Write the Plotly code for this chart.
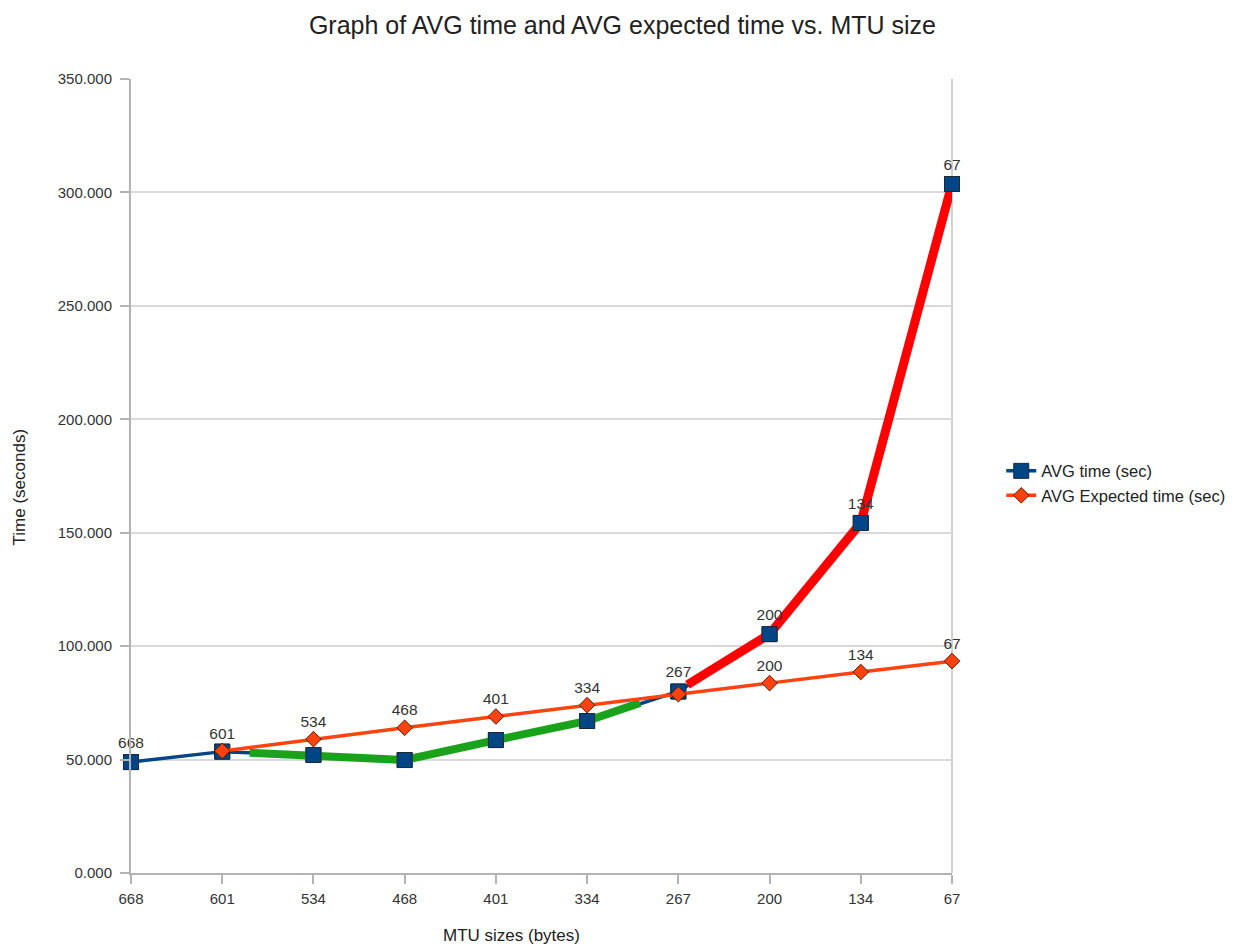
import plotly.graph_objects as go

mtu_sizes = ["668", "601", "534", "468", "401", "334", "267", "200", "134", "67"]
avg_time = [48.9, 53.5, 52.0, 49.8, 58.6, 67.0, 80.0, 105.3, 154.3, 303.7]
avg_expected = [None, 53.8, 59.0, 64.0, 69.0, 74.0, 78.8, 83.7, 88.6, 93.4]
avg_time_labels = ["668", "", "", "", "", "", "267", "200", "134", "67"]
expected_labels = ["", "601", "534", "468", "401", "334", "", "200", "134", "67"]
y_ticks = [0, 50, 100, 150, 200, 250, 300, 350]

# hand-drawn highlight strokes (x in category index units)
green_x = [1.3, 2, 3, 4, 5, 5.58]
green_y = [53.0, 52.0, 49.8, 58.6, 67.0, 75.0]
red_x = [6.1, 7, 8, 9]
red_y = [83.0, 105.3, 154.3, 303.7]

xi = list(range(len(mtu_sizes)))
font = "Liberation Sans, Arial, sans-serif"
lbl_font = dict(family=font, size=15.5, color="#333333")

fig = go.Figure()
fig.add_trace(go.Scatter(x=xi, y=avg_time, mode="lines+markers", name="AVG time (sec)",
                         line=dict(color="#004586", width=3.5), cliponaxis=False,
                         marker=dict(symbol="square", size=15, color="#004586",
                                     line=dict(color="#1a2a3a", width=1))))
fig.add_trace(go.Scatter(x=green_x, y=green_y, mode="lines", showlegend=False,
                         line=dict(color="#1aa31a", width=8), hoverinfo="skip"))
fig.add_trace(go.Scatter(x=red_x, y=red_y, mode="lines", showlegend=False,
                         line=dict(color="#ff0000", width=9), hoverinfo="skip"))
fig.add_trace(go.Scatter(x=xi, y=avg_time, mode="markers+text", showlegend=False,
                         text=avg_time_labels, textposition="top center",
                         textfont=lbl_font, cliponaxis=False,
                         marker=dict(symbol="square", size=15, color="#004586",
                                     line=dict(color="#1a2a3a", width=1)), hoverinfo="skip"))
fig.add_trace(go.Scatter(x=xi, y=avg_expected, mode="lines+markers+text", name="AVG Expected time (sec)",
                         text=expected_labels, textposition="top center",
                         textfont=lbl_font, cliponaxis=False,
                         line=dict(color="#ff420e", width=3.5),
                         marker=dict(symbol="diamond", size=12, color="#ff420e",
                                     line=dict(color="#5a1a00", width=1))))

fig.update_layout(
    width=1240, height=947,
    margin=dict(l=131, r=288, t=79, b=74, autoexpand=False),
    paper_bgcolor="white", plot_bgcolor="white",
    font=dict(family=font, size=15, color="#333333"),
    title=dict(text="Graph of AVG time and AVG expected time vs. MTU size",
               x=0.502, xanchor="center", y=0.973, yanchor="middle",
               font=dict(size=25, color="#222222")),
    showlegend=True,
    legend=dict(x=1.06, xanchor="left", y=0.491, yanchor="middle",
                font=dict(size=16.5, color="#222222"), tracegroupgap=0,
                bgcolor="rgba(0,0,0,0)"),
)
fig.update_xaxes(range=[0, 9], tickmode="array", tickvals=xi, ticktext=mtu_sizes,
                 showgrid=False, showline=True, linecolor="#b3b3b3", linewidth=2,
                 mirror=False, ticks="outside", ticklen=9, tickcolor="#b3b3b3", tickwidth=2,
                 ticklabelstandoff=2,
                 zeroline=False, tickfont=dict(size=15, color="#333333"))
fig.update_yaxes(range=[0, 350], tickmode="array", tickvals=y_ticks,
                 ticktext=[f"{v:.3f}" for v in y_ticks],
                 showgrid=True, gridcolor="#d9d9d9", gridwidth=2,
                 showline=True, linecolor="#b3b3b3", linewidth=2,
                 ticks="outside", ticklen=9, tickcolor="#b3b3b3", tickwidth=2,
                 ticklabelstandoff=5,
                 zeroline=False, tickfont=dict(size=15, color="#333333"))
# right frame line
fig.add_shape(type="line", xref="paper", yref="paper", x0=1, x1=1, y0=0, y1=1,
              line=dict(color="#d0d0d0", width=2), layer="below")
fig.add_annotation(text="MTU sizes (bytes)", xref="paper", yref="paper",
                   x=0.463, y=-0.079, xanchor="center", yanchor="middle",
                   showarrow=False, font=dict(size=17, color="#222222"))
fig.add_annotation(text="Time (seconds)", xref="paper", yref="paper",
                   x=-0.136, y=0.486, xanchor="center", yanchor="middle", textangle=-90,
                   showarrow=False, font=dict(size=17, color="#222222"))

fig.write_html("out.html")
